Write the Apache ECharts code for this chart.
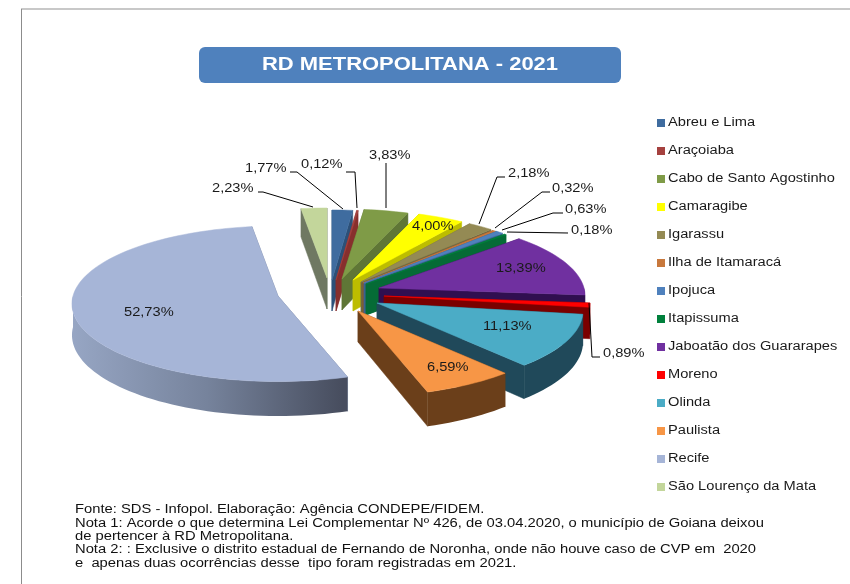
<!DOCTYPE html>
<html>
<head>
<meta charset="utf-8">
<style>html,body{margin:0;padding:0;background:#fff}#c{width:850px;height:584px}</style>
<script src="https://cdn.jsdelivr.net/npm/echarts@6/dist/echarts.min.js"></script>
</head>
<body>
<div id="c"></div>
<script>
// ---- data ----
const titleText = 'RD METROPOLITANA - 2021';
const categories = ['Abreu e Lima','Araçoiaba','Cabo de Santo Agostinho','Camaragibe','Igarassu','Ilha de Itamaracá','Ipojuca','Itapissuma','Jaboatão dos Guararapes','Moreno','Olinda','Paulista','Recife','São Lourenço da Mata'];
const values = [1.77,0.12,3.83,4.00,2.18,0.32,0.63,0.18,13.39,0.89,11.13,6.59,52.73,2.23];
const footerLines = [
  'Fonte: SDS - Infopol. Elaboração: Agência CONDEPE/FIDEM.',
  'Nota 1: Acorde o que determina Lei Complementar Nº 426, de 03.04.2020, o município de Goiana deixou',
  'de pertencer à RD Metropolitana.',
  'Nota 2: : Exclusive o distrito estadual de Fernando de Noronha, onde não houve caso de CVP em  2020',
  'e  apenas duas ocorrências desse  tipo foram registradas em 2021.'
];

// ---- styles and layout ----
const topColors  = ['#3F6C9F','#A5413F','#7F9B47','#FFFF00','#948A54','#C8783C','#4F81BD','#00803C','#7030A0','#FF0000','#4BACC6','#F79646','#A6B5D7','#C3D69B'];
const sideColors = ['#2C5078','#872F2D','#5F7636','#BDBD00','#6F6840','#8F5528','#3A6390','#056B36','#300F50','#7A0000','#20495A','#6B3F1A','#6E7C98','#6F7862'];
const pie = {cx:330, cy:292, rx:205, ry:77, persp:0.10, depth:31};
// explosion of every slice from the pie centre, in px
const explodeX = [2,6,12,23,31,33,34,36,49,54,47,28,-52,-3];
const explodeY = [-12,-12,-13,-12,-10,-9,-9,-8,-4,4,11,19,4,-14];
// label anchor (left, middle) and leader line per slice
const labelPos = [[245,168],[301,164],[369,155],[412,226],[508,173],[552,188],[565,209],[571,230],[496,268],[603,353],[483,326],[427,367],[124,312],[212,188]];
const leaders = [
  [[290,172],[297,172],[343,209]],
  [[346,172],[355,172],[357,208]],
  [[386,163],[386,208]],
  null,
  [[505,177],[497,177],[479,224]],
  [[550,192],[542,192],[495,228]],
  [[563,213],[553,213],[502,230]],
  [[568,233],[507,232]],
  null,
  [[600,357],[592,357],[589,303]],
  null,null,null,
  [[258,192],[263,192],[313,207]]
];
const FONT = '"Liberation Sans", Arial, sans-serif';
const TEXT_STRETCH = 1.22;

const total = values.reduce((a,b)=>a+b,0);
const fmt = v => v.toFixed(2).replace('.',',')+'%';

function renderSlice(params, api){
  const i = params.seriesIndex;
  let before = 0;
  for(let k=0;k<i;k++) before += values[k];
  const a0 = before/total*2*Math.PI;
  const a1 = a0 + api.value(0)/total*2*Math.PI;
  const n = Math.max(2, Math.ceil((a1-a0)/(Math.PI/90)));
  const ox = pie.cx+explodeX[i], oy = pie.cy+explodeY[i];
  const proj = (u,v,low)=>{
    const s = 1/(1-pie.persp*v);
    return [ox+pie.rx*u*s, oy+pie.ry*v*s+(low?pie.depth*s:0)];
  };
  const topArc=[], lowArc=[], vs=[];
  for(let k=0;k<=n;k++){
    const a=a0+(a1-a0)*k/n, u=Math.sin(a), v=-Math.cos(a);
    topArc.push(proj(u,v,false)); lowArc.push(proj(u,v,true)); vs.push(v);
  }
  const apexT=proj(0,0,false), apexL=proj(0,0,true);
  const side=sideColors[i];
  const poly=(pts,fill,stroke)=>({type:'polygon',silent:true,shape:{points:pts},style:{fill:fill,stroke:stroke||fill,lineWidth:0.5}});
  const children=[];
  children.push(poly([apexT,topArc[0],lowArc[0],apexL],side));
  children.push(poly([apexT,topArc[n],lowArc[n],apexL],side));
  const rimT=[],rimL=[];
  for(let k=0;k<=n;k++){ if(vs[k]>=-0.02){rimT.push(topArc[k]);rimL.unshift(lowArc[k]);} }
  if(rimT.length>1){
    let fill=side;
    if(categories[i]==='Recife'){
      fill={type:'linear',x:71,y:0,x2:343,y2:0,global:true,colorStops:[{offset:0,color:'#97A6C4'},{offset:0.5,color:'#76839C'},{offset:1,color:'#474D5E'}]};
    }
    children.push({type:'polygon',silent:true,shape:{points:rimT.concat(rimL)},style:{fill:fill}});
  }
  children.push(poly([apexT].concat(topArc),topColors[i]));
  return {type:'group',children:children};
}

const series = categories.map((name,i)=>({
  type:'custom', name:name, coordinateSystem:'none', silent:true,
  itemStyle:{color:topColors[i]}, z:2+i, animation:false,
  renderItem:renderSlice, data:[[values[i]]]
}));

const txt=(s,x,y,opt)=>Object.assign({type:'text',x:x,y:y+1,z:50,silent:true,scaleX:TEXT_STRETCH,
  style:{text:s,font:'12px '+FONT,fill:'#1a1a1a',verticalAlign:'middle',align:'left'}},opt||{});

const graphic=[
  {type:'line',silent:true,shape:{x1:21,y1:9,x2:850,y2:9},style:{stroke:'#c8c8c8',lineWidth:2}},
  {type:'line',silent:true,shape:{x1:21.5,y1:9,x2:21.5,y2:584},style:{stroke:'#8c8c8c',lineWidth:1}},
  {type:'rect',silent:true,shape:{x:199,y:47,width:422,height:36,r:6},style:{fill:'#4F81BD'}}
];
graphic.push(txt(titleText,410,64,{style:{text:titleText,font:'bold 18px '+FONT,fill:'#fff',align:'center',verticalAlign:'middle'}}));
categories.forEach((name,i)=>{
  graphic.push(txt(name,668,122+28*i));
  graphic.push(txt(fmt(values[i]),labelPos[i][0],labelPos[i][1]));
  if(leaders[i]) graphic.push({type:'polyline',silent:true,z:40,shape:{points:leaders[i]},style:{stroke:'#000',lineWidth:1,fill:null}});
});
footerLines.forEach((s,i)=>{
  graphic.push(txt(s,75,509+13.3*i,{scaleX:1.23,style:{text:s,font:'12px '+FONT,fill:'#111',verticalAlign:'middle',align:'left'}}));
});

const chart=echarts.init(document.getElementById('c'),null,{renderer:'canvas'});
chart.setOption({
  animation:false,
  backgroundColor:'#fff',
  legend:{data:categories,orient:'vertical',left:652,top:114,itemWidth:8,itemHeight:8,itemGap:20,icon:'rect',selectedMode:false,
    formatter:()=>'',textStyle:{fontSize:8,lineHeight:8}},
  series:series,
  graphic:graphic
});
</script>
</body>
</html>
